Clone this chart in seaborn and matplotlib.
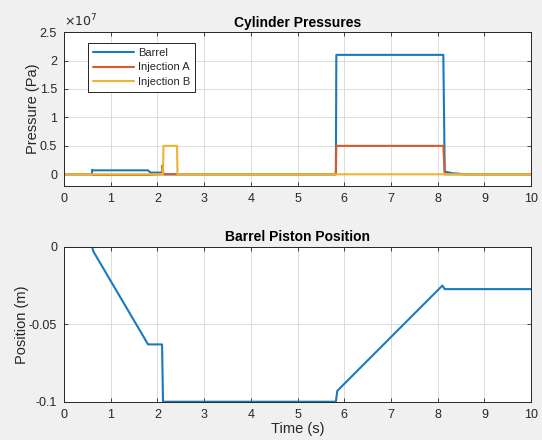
import numpy as np
import pandas as pd
import matplotlib
matplotlib.use("Agg")
import matplotlib.pyplot as plt
import seaborn as sns
from matplotlib.ticker import FuncFormatter

sns.set_theme(style="whitegrid")
plt.rcParams['font.family'] = ['Liberation Sans', 'DejaVu Sans']

# ---- data (pressures in units of 1e7 Pa) ----
barrel_t = [0, 0.6, 0.6, 0.62, 1.8, 1.85, 2.1, 2.12, 5.82, 5.83, 8.12, 8.15, 8.3, 8.6, 10]
barrel_p = [0, 0, 0.08, 0.07, 0.07, 0.03, 0.03, 0, 0, 2.1, 2.1, 0.05, 0.02, 0, 0]
injA_t = [0, 0.6, 0.62, 1.8, 2.1, 2.11, 2.13, 2.4, 5.82, 5.83, 8.12, 8.15, 10]
injA_p = [0, 0, -0.01, -0.01, 0, 0.16, 0, 0, 0, 0.5, 0.5, 0, 0]
injB_t = [0, 2.12, 2.13, 2.42, 2.43, 10]
injB_p = [0, 0, 0.5, 0.5, 0, 0]

pos_t = [0, 0.6, 0.63, 1.8, 2.1, 2.12, 5.82, 5.85, 8.1, 8.15, 10]
pos_x = [0, 0, -0.003, -0.063, -0.063, -0.1, -0.1, -0.093, -0.025, -0.0273, -0.0273]

series_names = ["Barrel", "Injection A", "Injection B"]
colors = ["#1a7abf", "#d65b2a", "#ecb530"]

rows = []
for name, tt, pp in zip(series_names, [barrel_t, injA_t, injB_t], [barrel_p, injA_p, injB_p]):
    for i, (a, b) in enumerate(zip(tt, pp)):
        rows.append({"t": a, "p": b * 1e7, "series": name, "order": i})
df_p = pd.DataFrame(rows)
df_x = pd.DataFrame({"t": pos_t, "x": pos_x})

fig = plt.figure(figsize=(5.42, 4.40), dpi=100, facecolor="#f0f0f0")
ax1 = fig.add_axes([0.118, 0.578, 0.862, 0.349])
ax2 = fig.add_axes([0.118, 0.087, 0.862, 0.352])

axc = "#262626"
for ax in (ax1, ax2):
    ax.set_facecolor("white")
    ax.grid(True, color="#dcdcdc", linewidth=0.7)
    for s in ax.spines.values():
        s.set_color(axc)
        s.set_linewidth(0.7)
        s.set_visible(True)
    ax.tick_params(direction="in", length=3, width=0.6, colors=axc, labelsize=9,
                   top=True, right=True, bottom=True, left=True, pad=5)
    ax.set_xlim(0, 10)
    ax.set_xticks(range(0, 11))

sns.lineplot(data=df_p, x="t", y="p", hue="series", units="series", estimator=None,
             sort=False, palette=colors, linewidth=1.5, ax=ax1, legend=True)
ax1.set_ylim(-0.2e7, 2.5e7)
ax1.set_yticks([0, 0.5e7, 1e7, 1.5e7, 2e7, 2.5e7])
ax1.yaxis.set_major_formatter(FuncFormatter(lambda v, p: f"{v/1e7:g}"))
ax1.set_xlabel("")
ax1.set_ylabel("Pressure (Pa)", fontsize=10.5, color=axc, labelpad=0)
ax1.set_title("Cylinder Pressures", fontsize=10, fontweight="bold", color="black", pad=4)
ax1.text(0.0, 1.02, r"$\times10^{7}$", transform=ax1.transAxes, fontsize=9, color=axc,
         ha="left", va="bottom")
leg = ax1.legend(loc="upper left", bbox_to_anchor=(0.04, 0.965), fontsize=8,
                 frameon=True, fancybox=False, edgecolor="black", framealpha=1,
                 handlelength=3.7, borderpad=0.45, labelspacing=0.4, handletextpad=0.3)
leg.get_frame().set_linewidth(0.6)

sns.lineplot(data=df_x, x="t", y="x", sort=False, estimator=None, color=colors[0],
             linewidth=1.5, ax=ax2)
ax2.set_ylim(-0.1, 0)
ax2.set_yticks([-0.1, -0.05, 0])
ax2.yaxis.set_major_formatter(FuncFormatter(lambda v, p: f"{v:g}"))
ax2.set_xlabel("Time (s)", fontsize=10.5, color=axc, labelpad=1)
ax2.set_ylabel("Position (m)", fontsize=10.5, color=axc, labelpad=0)
ax2.set_title("Barrel Piston Position", fontsize=10, fontweight="bold", color="black", pad=4)

fig.savefig("out.png", dpi=100, facecolor=fig.get_facecolor())
